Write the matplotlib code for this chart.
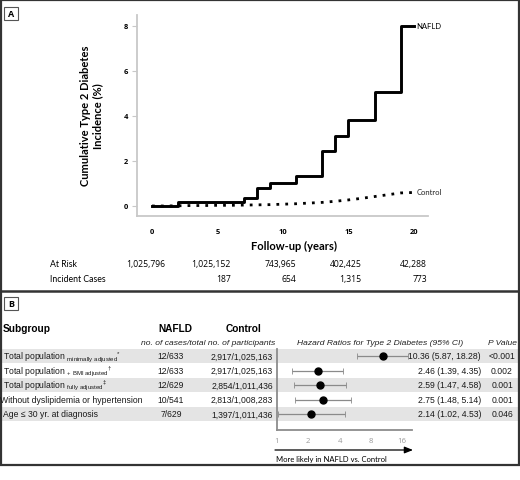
import matplotlib
matplotlib.use("Agg")
import matplotlib.pyplot as plt
from matplotlib.patches import Rectangle
from matplotlib.transforms import blended_transform_factory

# panel A: cumulative incidence (%)
years = [0, 2, 7, 8, 9, 11, 13, 14, 15, 17, 19, 20]
nafld_cum = [0, 0.19, 0.37, 0.78, 1.02, 1.35, 2.44, 3.09, 3.83, 5.07, 8.0, 8.0]
ctrl_years = list(range(0, 21))
ctrl_cum = [0, 0, 0.01, 0.02, 0.02, 0.03, 0.03, 0.04, 0.05, 0.06, 0.08,
            0.1, 0.13, 0.16, 0.21, 0.27, 0.34, 0.42, 0.5, 0.58, 0.6]
risk_years = [0, 5, 10, 15, 20]
at_risk = ["1,025,796", "1,025,152", "743,965", "402,425", "42,288"]
incident = ["", "187", "654", "1,315", "773"]

# panel B: forest plot
subgroups = [r"Total population$\ _{\mathregular{minimally\ adjusted}}{}^{\mathregular{*}}$",
             r"Total population$\ _{\mathregular{+\ BMI\ adjusted}}{}^{\dagger}$",
             r"Total population$\ _{\mathregular{fully\ adjusted}}{}^{\ddagger}$",
             "Without dyslipidemia or hypertension",
             "Age \u2264 30 yr. at diagnosis"]
nafld_n = ["12/633", "12/633", "12/629", "10/541", "7/629"]
ctrl_n = ["2,917/1,025,163", "2,917/1,025,163", "2,854/1,011,436",
          "2,813/1,008,283", "1,397/1,011,436"]
hr = [10.36, 2.46, 2.59, 2.75, 2.14]
hr_lo = [5.87, 1.39, 1.47, 1.48, 1.02]
hr_hi = [18.28, 4.35, 4.58, 5.14, 4.53]
p_vals = ["<0.001", "0.002", "0.001", "0.001", "0.046"]
hr_ticks = [1, 2, 4, 8, 16]

plt.rcParams['mathtext.fontset'] = 'custom'
plt.rcParams['mathtext.rm'] = 'Liberation Sans'
plt.rcParams['mathtext.it'] = 'Liberation Sans:italic'

W, H = 520, 481
fig = plt.figure(figsize=(W / 100, H / 100), dpi=100)


def px_axes(x0, y0, x1, y1):
    return fig.add_axes([x0 / W, 1 - y1 / H, (x1 - x0) / W, (y1 - y0) / H])


# background axes in pixel coordinates
bg = fig.add_axes([0, 0, 1, 1])
bg.set_xlim(0, W)
bg.set_ylim(H, 0)
bg.axis("off")

sans = "Lato"
nums = "Open Sans"
edge = "#333333"
bg.add_patch(Rectangle((0.8, 0.8), W - 1.8, 465, fill=False, ec=edge, lw=1.6))
bg.plot([0, W], [292, 292], color=edge, lw=1.8)
for lab, y0 in [("A", 8), ("B", 298)]:
    bg.add_patch(Rectangle((4, y0), 14, 13, fill=False, ec="#555555", lw=0.8))
    bg.text(11, y0 + 6.8, lab, ha="center", va="center", fontsize=6.5,
            fontweight="bold", family=nums)

# ---------------- panel A ----------------
axA = px_axes(137, 16, 428, 217)
axA.set_facecolor("none")
axA.step(years, nafld_cum, where="post", color="black", lw=2.1)
axA.plot(ctrl_years, ctrl_cum, color="black", lw=2, linestyle=(0, (1, 2.2)))
axA.set_xlim(-1.145, 21.07)
axA.set_ylim(-0.444, 8.475)
axA.set_xticks(risk_years)
axA.set_yticks([0, 2, 4, 6, 8])
for s in ["top", "right"]:
    axA.spines[s].set_visible(False)
for s in ["left", "bottom"]:
    axA.spines[s].set_color("#c8c8c8")
    axA.spines[s].set_linewidth(1.3)
axA.tick_params(axis="y", length=3.5, width=0.8, color="#c8c8c8", pad=3)
axA.tick_params(axis="x", length=0, pad=9)
for t in axA.get_xticklabels() + axA.get_yticklabels():
    t.set_fontsize(5.4)
    t.set_fontweight("bold")
    t.set_family(nums)
axA.text(20.2, nafld_cum[-1], "NAFLD", fontsize=5.5, va="center", family=sans)
axA.text(20.2, ctrl_cum[-1] + 0.05, "Control", fontsize=5.5, va="center",
         family=sans, color="#222222")

bg.text(92, 116, "Cumulative Type 2 Diabetes\nIncidence (%)", rotation=90,
        ha="center", va="center", fontsize=8, fontweight="bold", family=sans,
        linespacing=1.15)
bg.text(294, 246, "Follow-up (years)", ha="center", va="center", fontsize=8,
        fontweight="bold", family=sans)

tr = blended_transform_factory(axA.transData, bg.transData)
bg.text(50, 265, "At Risk", va="center", fontsize=6.3, family=sans)
bg.text(50, 280, "Incident Cases", va="center", fontsize=6.3, family=sans)
for yr, a, c in zip(risk_years, at_risk, incident):
    bg.text(yr + 1.0, 265, a, transform=tr, ha="right", va="center",
            fontsize=6.2, family=nums)
    bg.text(yr + 1.0, 280, c, transform=tr, ha="right", va="center",
            fontsize=6.2, family=nums)

# ---------------- panel B ----------------
row_y0, row_h = 357, 14.5
for i in range(len(subgroups)):
    if i % 2 == 0:
        bg.add_patch(Rectangle((1.5, row_y0 + i * row_h - 7.2), W - 3, 14.4,
                               color="#e4e4e4", lw=0, zorder=0))

arial = "Liberation Sans"
bg.text(3, 329, "Subgroup", va="center", fontsize=7.3, fontweight="bold", family=arial)
bg.text(175, 329, "NAFLD", ha="center", va="center", fontsize=7.3,
        fontweight="bold", family=arial)
bg.text(243, 329, "Control", ha="center", va="center", fontsize=7.3,
        fontweight="bold", family=arial)
bg.text(208.5, 344, "no. of cases/total no. of participants", ha="center",
        va="center", fontsize=6.1, style="italic", family=arial, color="#222222")
bg.text(380, 344, "Hazard Ratios for Type 2 Diabetes (95% CI)", ha="center",
        va="center", fontsize=6.1, style="italic", family=arial, color="#222222")
bg.text(502, 344, "P Value", ha="center", va="center", fontsize=6.1,
        style="italic", family=arial, color="#222222")

for i, (sg, nn, cn, h, lo, hi, p) in enumerate(zip(subgroups, nafld_n, ctrl_n,
                                                    hr, hr_lo, hr_hi, p_vals)):
    y = row_y0 + i * row_h
    x_sg = 0.5 if sg.startswith("Without") else 3
    bg.text(x_sg, y, sg, va="center", fontsize=6.2, family=arial, color="#1a1a1a")
    bg.text(171, y, nn, ha="center", va="center", fontsize=6.2, family=arial,
            color="#1a1a1a")
    bg.text(273, y, cn, ha="right", va="center", fontsize=6.2, family=arial,
            color="#1a1a1a")
    bg.text(481, y, f"{h:.2f} ({lo:.2f}, {hi:.2f})", ha="right", va="center",
            fontsize=6.2, family=arial, color="#1a1a1a")
    bg.text(502, y, p, ha="center", va="center", fontsize=6.2, family=arial,
            color="#1a1a1a")

axB = px_axes(277, 350, 412, 431)
axB.set_facecolor("none")
axB.set_xscale("log", base=2)
axB.set_xlim(1, 2 ** (135 / 31.3))
axB.set_ylim(5.1, -0.483)
rows = list(range(len(hr)))
xerr = [[h - lo for h, lo in zip(hr, hr_lo)], [hi - h for h, hi in zip(hr, hr_hi)]]
axB.errorbar(hr, rows, xerr=xerr, fmt="o", color="black", ms=5,
             ecolor="#8a8a8a", elinewidth=0.9, capsize=2, capthick=0.6,
             clip_on=False)
axB.set_xticks(hr_ticks)
axB.set_xticklabels([str(t) for t in hr_ticks])
axB.minorticks_off()
axB.set_yticks([])
for s in ["top", "right"]:
    axB.spines[s].set_visible(False)
for s in ["left", "bottom"]:
    axB.spines[s].set_color("#8c8c8c")
    axB.spines[s].set_linewidth(1.3)
axB.tick_params(axis="x", length=0, pad=5, labelsize=5.6, labelcolor="#9a9a9a")
for t in axB.get_xticklabels():
    t.set_family(nums)

bg.annotate("", xy=(413, 451), xytext=(275, 451),
            arrowprops=dict(arrowstyle="-|>,head_length=0.5,head_width=0.2",
                            color="black", lw=0.9, shrinkA=0, shrinkB=0))
bg.text(276, 460, "More likely in NAFLD vs. Control", va="center", fontsize=5.5,
        family=sans)

fig.savefig("out.png", dpi=100)
